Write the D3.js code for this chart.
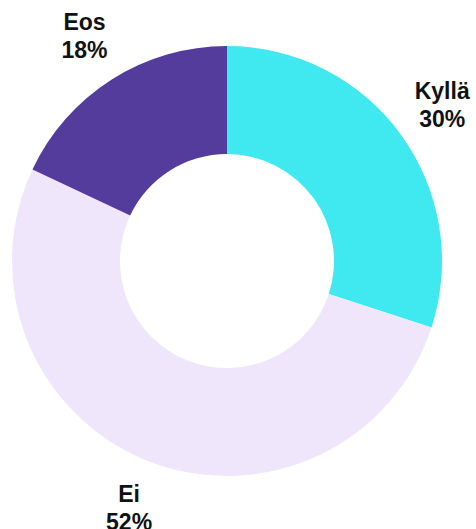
<!DOCTYPE html>
<html>
<head>
<meta charset="utf-8">
<style>
  body { margin: 0; background: #fff; }
  text { font-family: "Liberation Sans", Arial, sans-serif; font-weight: bold; font-size: 23px; fill: #111; }
</style>
</head>
<body>
<script src="https://cdn.jsdelivr.net/npm/d3@7"></script>
<script>
    var categories = ["Kyllä", "Ei", "Eos"];
    var values = [30, 52, 18];
    var colors = ["#40e9f0", "#f0e6fc", "#533c9c"];

    var width = 476, height = 529;
    var cx = 227, cy = 261, outer = 215, inner = 107, labelR = 266;

    var svg = d3.select('body').append('svg').attr('width', width).attr('height', height);
    var g = svg.append('g').attr('transform', 'translate(' + cx + ',' + cy + ')');

    var data = categories.map(function (c, i) { return { name: c, value: values[i], color: colors[i] }; });

    var pie = d3.pie().sort(null).value(function (d) { return d.value; });
    var arc = d3.arc().innerRadius(inner).outerRadius(outer);
    var labelArc = d3.arc().innerRadius(labelR).outerRadius(labelR);

    var arcs = pie(data);

    g.selectAll('path')
        .data(arcs)
        .join('path')
        .attr('d', arc)
        .attr('fill', function (d) { return d.data.color; });

    var labels = g.selectAll('text.lbl')
        .data(arcs)
        .join('text')
        .attr('class', 'lbl')
        .attr('text-anchor', 'middle')
        .attr('transform', function (d) {
            var c = labelArc.centroid(d);
            return 'translate(' + c[0] + ',' + c[1] + ')';
        });
    labels.append('tspan').attr('x', 0).attr('y', -6).text(function (d) { return d.data.name; });
    labels.append('tspan').attr('x', 0).attr('y', 22).text(function (d) { return d.data.value + '%'; });
</script>
</body>
</html>
